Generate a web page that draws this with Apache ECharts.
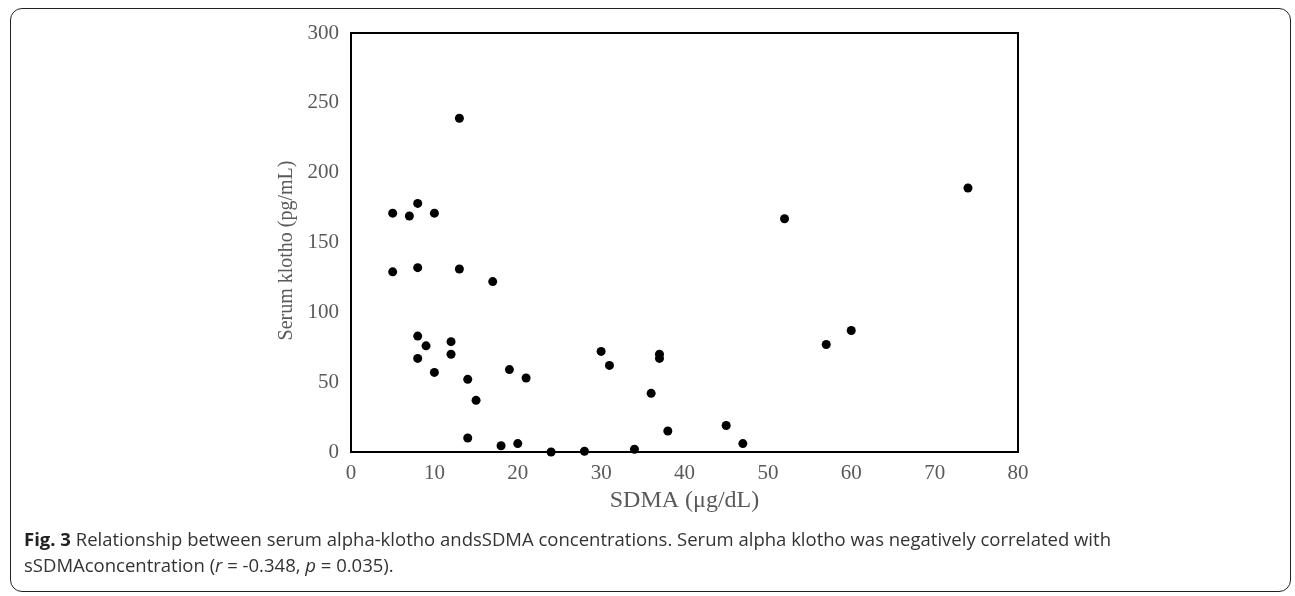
<!DOCTYPE html>
<html>
<head>
<meta charset="utf-8">
<script src="https://cdn.jsdelivr.net/npm/echarts@6/dist/echarts.min.js"></script>
<style>
html,body{margin:0;padding:0;background:#fff;}
#frame{position:absolute;left:10px;top:8px;width:1281px;height:584px;border:1.5px solid #222;border-radius:12px;box-sizing:border-box;}
#chart{position:absolute;left:0;top:0;width:1295px;height:596px;}
</style>
</head>
<body>
<div id="frame"></div>
<div id="chart"></div>
<script>
const sdma = [13, 5, 7, 8, 10, 5, 8, 13, 17, 8, 9, 12, 12, 8, 10, 14, 19, 21, 15, 14, 18, 20, 24, 28, 34, 30, 31, 37, 37, 36, 38, 45, 47, 57, 60, 52, 74];
const klotho = [239, 171, 169, 178, 171, 129, 132, 131, 122, 83, 76, 79, 70, 67, 57, 52, 59, 53, 37, 10, 4.5, 6, 0, 0.5, 2, 72, 62, 70, 67, 42, 15, 19, 6, 77, 87, 167, 189];
const xTicks = [0, 10, 20, 30, 40, 50, 60, 70, 80];
const yTicks = [0, 50, 100, 150, 200, 250, 300];
const xName = 'SDMA (μg/dL)';
const yName = 'Serum klotho (pg/mL)';

const points = sdma.map((x, i) => [x, klotho[i]]);
const chart = echarts.init(document.getElementById('chart'), null, {renderer: 'canvas'});
const labelFont = {fontFamily: 'Liberation Serif', fontSize: 21, color: '#595959'};
const cap = {fontFamily: 'Open Sans', fontSize: 18.5, fill: '#333'};
chart.setOption({
  animation: false,
  backgroundColor: 'transparent',
  grid: {left: 351, top: 33, right: 277, bottom: 144, show: true, borderColor: '#000', borderWidth: 2},
  xAxis: {
    type: 'value', min: xTicks[0], max: xTicks[xTicks.length - 1], interval: 10,
    axisLine: {show: true, lineStyle: {color: '#000', width: 2}},
    axisTick: {show: false}, splitLine: {show: false},
    axisLabel: Object.assign({margin: 11}, labelFont),
    name: xName, nameLocation: 'middle', nameGap: 35,
    nameTextStyle: {fontFamily: 'Liberation Serif', fontSize: 24, color: '#595959'}
  },
  yAxis: {
    type: 'value', min: yTicks[0], max: yTicks[yTicks.length - 1], interval: 50,
    axisLine: {show: true, lineStyle: {color: '#000', width: 2}},
    axisTick: {show: false}, splitLine: {show: false},
    axisLabel: Object.assign({margin: 12}, labelFont),
    name: yName, nameLocation: 'middle', nameGap: 48, nameRotate: 90,
    nameTextStyle: {fontFamily: 'Liberation Serif', fontSize: 20, color: '#595959', padding: [0, 16, 0, 0]}
  },
  series: [{
    type: 'scatter', data: points, symbol: 'circle', symbolSize: 9,
    itemStyle: {color: '#000', opacity: 1}
  }],
  graphic: [
    {type: 'text', x: 24, y: 531, style: Object.assign({
      text: '{b|Fig. 3} Relationship between serum alpha-klotho andsSDMA concentrations. Serum alpha klotho was negatively correlated with',
      rich: {b: Object.assign({}, cap, {fontWeight: 'bold', fill: '#222'})}
    }, cap)},
    {type: 'text', x: 24, y: 557, style: Object.assign({
      text: 'sSDMAconcentration ({i|r} = -0.348, {i|p} = 0.035).',
      rich: {i: Object.assign({}, cap, {fontStyle: 'italic'})}
    }, cap)}
  ]
});
</script>
</body>
</html>
